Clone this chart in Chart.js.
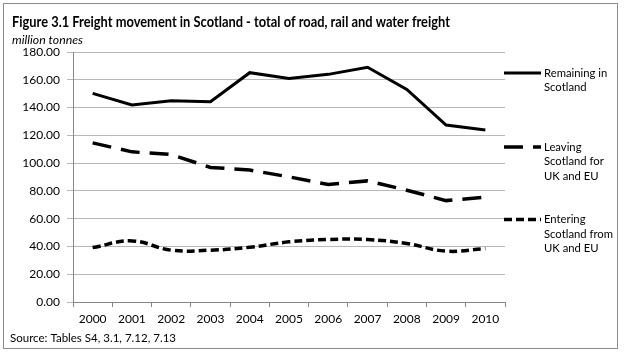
<!DOCTYPE html>
<html>
<head>
<meta charset="utf-8">
<script src="https://cdn.jsdelivr.net/npm/chart.js@4.4.1/dist/chart.umd.min.js"></script>
<style>
  html, body { margin: 0; padding: 0; background: #ffffff; }
  #wrap { width: 624px; height: 353px; position: relative; }
  canvas { display: block; }
</style>
</head>
<body>
<div id="wrap"><canvas id="c" width="624" height="353"></canvas></div>
<script>
// ---- Data ----
const years = ['2000','2001','2002','2003','2004','2005','2006','2007','2008','2009','2010'];
const remainingInScotland = [150.2, 141.8, 144.9, 144.2, 165.1, 161.0, 163.9, 169.0, 153.1, 127.4, 123.8];
const leavingScotland     = [114.6, 108.1, 106.2, 96.9, 95.0, 90.1, 84.6, 87.2, 80.5, 73.0, 75.5];
const enteringScotland    = [39.2, 44.0, 37.3, 37.3, 39.4, 43.3, 45.0, 45.0, 42.1, 36.6, 38.5];
const yAxisMin = 0;
const yAxisMax = 180;
const yAxisStep = 20;

const titleText = 'Figure 3.1 Freight movement in Scotland - total of road, rail and water freight';
const unitText = 'million tonnes';
const sourceText = 'Source: Tables S4, 3.1, 7.12, 7.13';
const legendLabels = [
  ['Remaining in', 'Scotland'],
  ['Leaving', 'Scotland for', 'UK and EU'],
  ['Entering', 'Scotland from', 'UK and EU']
];

const FONT = 'Lato, "Open Sans", "Liberation Sans", sans-serif';

function drawText(ctx, text, x, y, font, sx) {
  ctx.save();
  ctx.font = font;
  ctx.textBaseline = 'middle';
  ctx.textAlign = 'left';
  ctx.translate(x, y);
  ctx.scale(sx || 1, 1);
  ctx.fillText(text, 0, 0);
  ctx.restore();
}
function fitScale(ctx, text, font, targetWidth) {
  ctx.save();
  ctx.font = font;
  const w = ctx.measureText(text).width;
  ctx.restore();
  return targetWidth / w;
}

const decorPlugin = {
  id: 'decor',
  afterDraw(chart) {
    const ctx = chart.ctx;
    // outer border
    ctx.save();
    ctx.strokeStyle = '#8c8c8c';
    ctx.lineWidth = 1;
    ctx.strokeRect(3.5, 3.5, 614, 345);
    ctx.restore();

    ctx.fillStyle = '#000000';
    const tf = 'bold 15px ' + FONT;
    drawText(ctx, titleText, 12, 22, tf, fitScale(ctx, titleText, tf, 438));
    const uf = 'italic 12px ' + FONT;
    drawText(ctx, unitText, 12, 40, uf, fitScale(ctx, unitText, uf, 71));
    const sf = '11px ' + FONT;
    drawText(ctx, sourceText, 10, 338, sf, fitScale(ctx, sourceText, sf, 166));

    // legend
    const lf = '12px ' + FONT;
    const lsx = fitScale(ctx, 'Scotland from', lf, 69);
    const entries = [
      { y: 73, ds: chart.data.datasets[0] },
      { y: 147, ds: chart.data.datasets[1] },
      { y: 219.5, ds: chart.data.datasets[2] }
    ];
    entries.forEach((e, i) => {
      ctx.save();
      ctx.strokeStyle = e.ds.borderColor;
      ctx.lineWidth = e.ds.borderWidth;
      ctx.setLineDash(e.ds.borderDash || []);
      ctx.lineCap = e.ds.borderCapStyle || 'butt';
      ctx.beginPath();
      ctx.moveTo(504, e.y);
      ctx.lineTo(541, e.y);
      ctx.stroke();
      ctx.restore();
      ctx.fillStyle = '#000000';
      legendLabels[i].forEach((line, j) => {
        drawText(ctx, line, 544, e.y + j * 14.5, lf, lsx);
      });
    });
  }
};

new Chart(document.getElementById('c'), {
  type: 'line',
  data: {
    labels: years,
    datasets: [
      {
        label: 'Remaining in Scotland',
        data: remainingInScotland,
        borderColor: '#000000',
        borderWidth: 3,
        pointRadius: 0,
        tension: 0,
        fill: false
      },
      {
        label: 'Leaving Scotland for UK and EU',
        data: leavingScotland,
        borderColor: '#000000',
        borderWidth: 3.5,
        borderDash: [19, 10],
        pointRadius: 0,
        tension: 0,
        fill: false
      },
      {
        label: 'Entering Scotland from UK and EU',
        data: enteringScotland,
        borderColor: '#000000',
        borderWidth: 3.5,
        borderDash: [8, 4],
        pointRadius: 0,
        tension: 0.4,
        fill: false
      }
    ]
  },
  options: {
    responsive: false,
    devicePixelRatio: 1,
    animation: false,
    layout: { padding: { top: 52, right: 119, bottom: 0, left: 0 } },
    plugins: {
      legend: { display: false },
      title: { display: false },
      tooltip: { enabled: false }
    },
    scales: {
      x: {
        type: 'category',
        offset: true,
        grid: {
          offset: true,
          drawOnChartArea: false,
          tickLength: 5,
          color: '#868686'
        },
        border: { color: '#868686', width: 1 },
        ticks: {
          color: '#000000',
          font: { family: FONT, size: 12 },
          padding: 5,
          maxRotation: 0
        },
        afterFit(s) { s.height = 51; }
      },
      y: {
        min: yAxisMin,
        max: yAxisMax,
        grid: { color: '#b8b8b8', tickLength: 6, lineWidth: 1 },
        border: { color: '#868686', width: 1 },
        ticks: {
          stepSize: yAxisStep,
          color: '#000000',
          font: { family: FONT, size: 12 },
          padding: 7,
          callback: (v) => Number(v).toFixed(2)
        },
        afterFit(s) { s.width = 73; }
      }
    }
  },
  plugins: [decorPlugin]
});
</script>
</body>
</html>
